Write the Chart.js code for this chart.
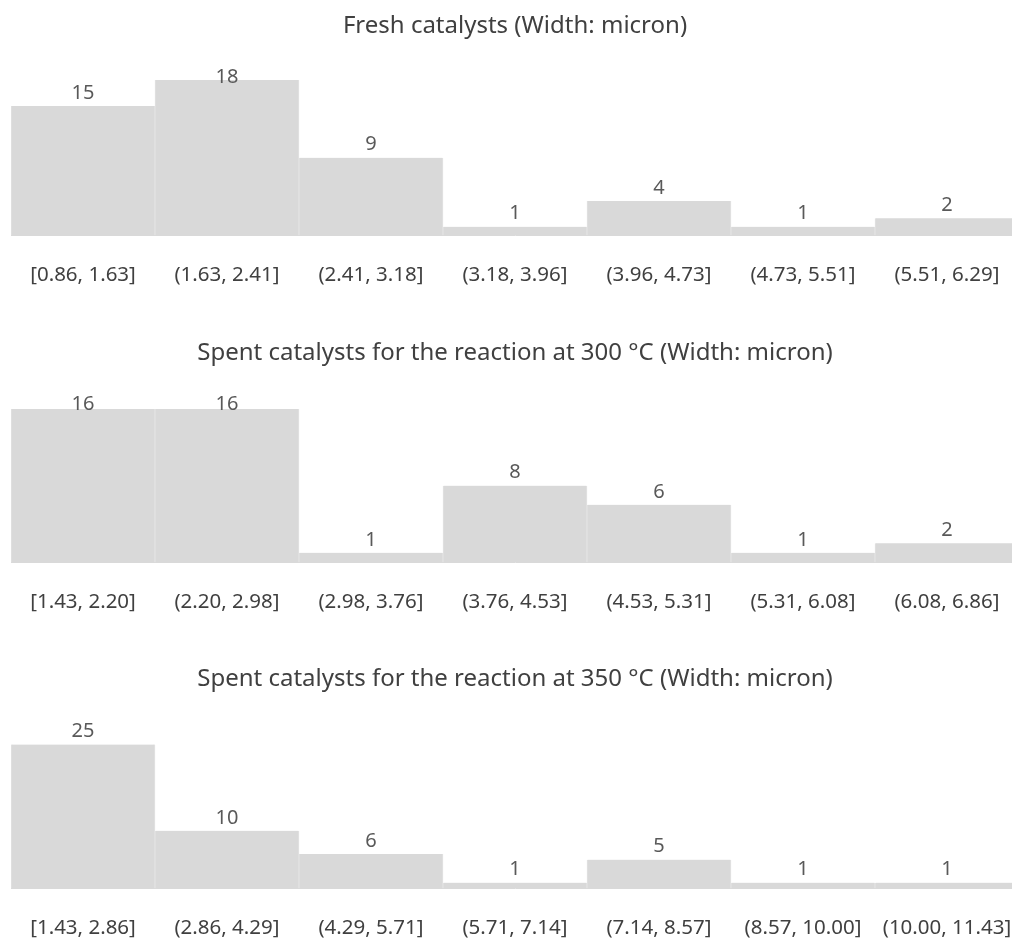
<!DOCTYPE html>
<html>
<head>
<meta charset="utf-8">
<script src="https://cdn.jsdelivr.net/npm/chart.js@4"></script>
<style>
  html, body { margin: 0; padding: 0; background: #ffffff; overflow: hidden; width: 1012px; height: 940px; position: relative; }
  .wrap { position: absolute; left: 0; }
  canvas { display: block; }
</style>
</head>
<body>
<div class="wrap" style="top:0px"><canvas id="c1" width="1100" height="330"></canvas></div>
<div class="wrap" style="top:327px"><canvas id="c2" width="1100" height="330"></canvas></div>
<div class="wrap" style="top:653px"><canvas id="c3" width="1100" height="330"></canvas></div>
<script>
// ---- data ----
const freshTitle = "Fresh catalysts (Width: micron)";
const freshLabels = ["[0.86, 1.63]", "(1.63, 2.41]", "(2.41, 3.18]", "(3.18, 3.96]", "(3.96, 4.73]", "(4.73, 5.51]", "(5.51, 6.29]"];
const freshCounts = [15, 18, 9, 1, 4, 1, 2];

const spent300Title = "Spent catalysts for the reaction at 300 °C (Width: micron)";
const spent300Labels = ["[1.43, 2.20]", "(2.20, 2.98]", "(2.98, 3.76]", "(3.76, 4.53]", "(4.53, 5.31]", "(5.31, 6.08]", "(6.08, 6.86]"];
const spent300Counts = [16, 16, 1, 8, 6, 1, 2];

const spent350Title = "Spent catalysts for the reaction at 350 °C (Width: micron)";
const spent350Labels = ["[1.43, 2.86]", "(2.86, 4.29]", "(4.29, 5.71]", "(5.71, 7.14]", "(7.14, 8.57]", "(8.57, 10.00]", "(10.00, 11.43]"];
const spent350Counts = [25, 10, 6, 1, 5, 1, 1];

const yAxisMax = [20, 18, 30];

// ---- styling ----
const FONT = "'Noto Sans', 'Open Sans', sans-serif";
const BAR_COLOR = "#d9d9d9";

const dataLabelPlugin = {
  id: "dataLabels",
  afterDatasetsDraw(chart) {
    const ctx = chart.ctx;
    const area = chart.chartArea;
    ctx.save();
    ctx.font = "20px " + FONT;
    ctx.fillStyle = "#595959";
    ctx.textAlign = "center";
    ctx.textBaseline = "middle";
    chart.data.datasets.forEach((ds, di) => {
      const meta = chart.getDatasetMeta(di);
      meta.data.forEach((bar, i) => {
        const y = Math.max(bar.y - 13, area.top + 14);
        ctx.fillText(String(ds.data[i]), bar.x, y);
      });
    });
    ctx.restore();
  }
};

function makeChart(id, title, labels, counts, ymax) {
  return new Chart(document.getElementById(id), {
    type: "bar",
    data: {
      labels: labels,
      datasets: [{
        data: counts,
        backgroundColor: BAR_COLOR,
        borderColor: "#e3e3e3",
        borderWidth: { left: 1, right: 1, top: 0, bottom: 0 },
        borderSkipped: false,
        barPercentage: 1.0,
        categoryPercentage: 1.0
      }]
    },
    options: {
      responsive: false,
      animation: false,
      devicePixelRatio: 1,
      layout: { padding: { left: 11, right: 81, top: 0, bottom: 16 } },
      plugins: {
        legend: { display: false },
        tooltip: { enabled: false },
        title: {
          display: true,
          text: title,
          color: "#404040",
          font: { family: FONT, size: 24, weight: "normal", lineHeight: 1.2 },
          padding: { top: 12, bottom: 22 }
        }
      },
      scales: {
        x: {
          grid: { display: false, drawTicks: false },
          border: { display: true, color: "#d9d9d9", width: 1 },
          ticks: {
            color: "#404040",
            font: { family: FONT, size: 20.5 },
            padding: 27,
            maxRotation: 0,
            autoSkip: false
          }
        },
        y: {
          display: false,
          min: 0,
          max: ymax
        }
      }
    },
    plugins: [dataLabelPlugin]
  });
}

makeChart("c1", freshTitle, freshLabels, freshCounts, yAxisMax[0]);
makeChart("c2", spent300Title, spent300Labels, spent300Counts, yAxisMax[1]);
makeChart("c3", spent350Title, spent350Labels, spent350Counts, yAxisMax[2]);
</script>
</body>
</html>
